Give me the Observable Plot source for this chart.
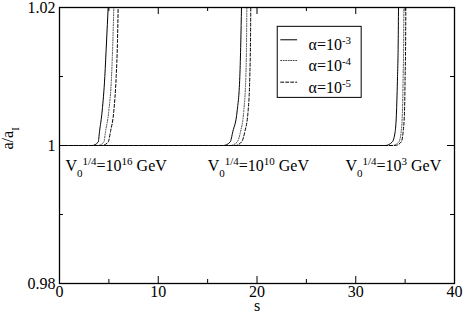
<!DOCTYPE html>
<html><head><meta charset="utf-8">
<script src="https://cdn.jsdelivr.net/npm/d3@7"></script>
<script src="https://cdn.jsdelivr.net/npm/@observablehq/plot@0.6"></script>
<style>
body{margin:0;background:#fff}
</style>
</head><body><div id="chart"></div>
<script>
// a/a_I levels at which the curves were read
const levels = [1, 1.0005, 1.002, 1.005, 1.01, 1.015, 1.02];
// s where each curve reaches the levels above (3 clusters x 3 alphas)
const sV16_a3 = [3.3, 3.92, 4.05, 4.32, 4.59, 4.76, 4.93];
const sV16_a4 = [3.9, 4.49, 4.66, 4.99, 5.27, 5.40, 5.50];
const sV16_a5 = [4.3, 4.93, 5.16, 5.50, 5.74, 5.87, 5.94];
const sV10_a3 = [16.6, 17.28, 17.55, 17.99, 18.26, 18.36, 18.43];
const sV10_a4 = [17.3, 17.99, 18.33, 18.66, 18.87, 18.94, 18.97];
const sV10_a5 = [17.8, 18.43, 18.77, 19.10, 19.27, 19.34, 19.37];
const sV3_a3 = [33.0, 33.69, 33.99, 34.13, 34.23, 34.30, 34.33];
const sV3_a4 = [33.7, 34.36, 34.60, 34.73, 34.80, 34.85, 34.87];
const sV3_a5 = [34.0, 34.60, 34.80, 34.94, 35.00, 35.05, 35.07];

const alphaExp = ["-3", "-4", "-5"];
const vExp = ["16", "10", "3"];
const annotS = [0.6, 15.0, 28.95];
const annotA = 0.9971;

const xMajor = [0, 10, 20, 30, 40];
const xMinor = [5, 15, 25, 35];
const yMajor = [0.98, 1, 1.02];
const yMinor = [0.99, 1.01];

// legend layout (data units)
const legBoxX = [22.1, 30.6];
const legBoxY = [1.0069, 1.0172];
const legRowY = [1.01532, 1.01232, 1.00918];
const legLineX = [22.4, 24.02];
const legTextX = 25.22;

const curves = [
  [sV16_a3, "-3", "V16"], [sV16_a4, "-4", "V16"], [sV16_a5, "-5", "V16"],
  [sV10_a3, "-3", "V10"], [sV10_a4, "-4", "V10"], [sV10_a5, "-5", "V10"],
  [sV3_a3, "-3", "V3"], [sV3_a4, "-4", "V3"], [sV3_a5, "-5", "V3"]
];
const rows = [];
for (const [ss, al, cl] of curves) {
  rows.push({s: 0, a: 1, alpha: al, cluster: cl});
  ss.forEach((s, i) => rows.push({s, a: levels[i], alpha: al, cluster: cl}));
}
const dashes = {"-3": null, "-4": "1,1.5", "-5": "3,2"};
const colors = {"-3": "#000", "-4": "#444", "-5": "#000"};

const font = "Liberation Serif";
const lineMarks = alphaExp.map(al => Plot.line(rows.filter(r => r.alpha === al), {
  x: "s", y: "a", z: "cluster", stroke: colors[al], strokeWidth: 1,
  strokeDasharray: dashes[al], curve: "monotone-x"
}));
const legendLines = alphaExp.map((al, i) => Plot.line([[legLineX[0], legRowY[i]], [legLineX[1], legRowY[i]]], {
  stroke: colors[al], strokeWidth: 1, strokeDasharray: dashes[al]
}));

const chart = Plot.plot({
  width: 463, height: 313,
  marginLeft: 59, marginRight: 9, marginTop: 7, marginBottom: 30,
  x: {domain: [0, 40]},
  y: {domain: [0.98, 1.02]},
  style: {fontFamily: font, fontSize: "16px", background: "#fff", color: "#000", overflow: "visible"},
  marks: [
    ...lineMarks,
    Plot.ruleX(xMajor, {y1: 0.98, y2: 0.98, insetBottom: 7, stroke: "#000"}),
    Plot.ruleX(xMinor, {y1: 0.98, y2: 0.98, insetBottom: 4, stroke: "#000"}),
    Plot.ruleX(xMajor, {y1: 1.02, y2: 1.02, insetBottom: -7, stroke: "#000"}),
    Plot.ruleX(xMinor, {y1: 1.02, y2: 1.02, insetBottom: -4, stroke: "#000"}),
    Plot.ruleY(yMajor, {x1: 0, x2: 0, insetRight: -7, stroke: "#000"}),
    Plot.ruleY(yMinor, {x1: 0, x2: 0, insetRight: -4, stroke: "#000"}),
    Plot.ruleY(yMajor, {x1: 40, x2: 40, insetRight: 7, stroke: "#000"}),
    Plot.ruleY(yMinor, {x1: 40, x2: 40, insetRight: 4, stroke: "#000"}),
    Plot.frame({stroke: "#000", strokeWidth: 1.3}),
    Plot.axisX(xMajor, {anchor: "bottom", tickSize: 0, tickPadding: 2, fontSize: 16, fontFamily: font, label: null}),
    Plot.axisY(yMajor, {anchor: "left", tickSize: 0, tickPadding: 4, fontSize: 16, fontFamily: font, label: null,
      tickFormat: d => d === 1 ? "1" : d.toFixed(2)}),
    Plot.text(["s"], {frameAnchor: "bottom", dy: 22, lineAnchor: "middle", fontSize: 16, fontFamily: font}),
    Plot.text(["YLAB"], {frameAnchor: "left", dx: -52, dy: 4, rotate: -90, lineAnchor: "middle", fontSize: 16, fontFamily: font}),
    Plot.text(annotS, {x: d => d, y: annotA, text: (d, i) => "ANN" + i, textAnchor: "start", lineAnchor: "middle", fontSize: 16, fontFamily: font}),
    Plot.rect([0], {x1: legBoxX[0], x2: legBoxX[1], y1: legBoxY[0], y2: legBoxY[1], fill: "#fff", stroke: "#000", strokeWidth: 1}),
    ...legendLines,
    Plot.text(legRowY, {x: legTextX, y: d => d, dy: 5.5, text: (d, i) => "LEG" + i, textAnchor: "start", lineAnchor: "middle", fontSize: 16, fontFamily: font})
  ]
});

// rich text (sub/superscripts)
const rich = {
  YLAB: [["a/a", 0], ["I", -1]]
};
vExp.forEach((e, i) => rich["ANN" + i] = [["V", 0], ["0", -1], ["1/4", 1], ["=10", 0], [e, 1], [" GeV", 0]]);
alphaExp.forEach((e, i) => rich["LEG" + i] = [["\u03b1=10", 0], [e, 1]]);
const shift = {0: 0, 1: -6, "-1": 6};
d3.select(chart).selectAll("text").each(function () {
  const key = this.textContent;
  if (!rich[key]) return;
  const el = d3.select(this);
  el.text(null);
  let cur = 0;
  for (const [t, lvl] of rich[key]) {
    const off = shift[lvl];
    el.append("tspan").attr("dy", off - cur).attr("font-size", lvl ? 11 : 16).text(t);
    cur = off;
  }
});
document.getElementById("chart").appendChild(chart);
</script>
</body></html>
